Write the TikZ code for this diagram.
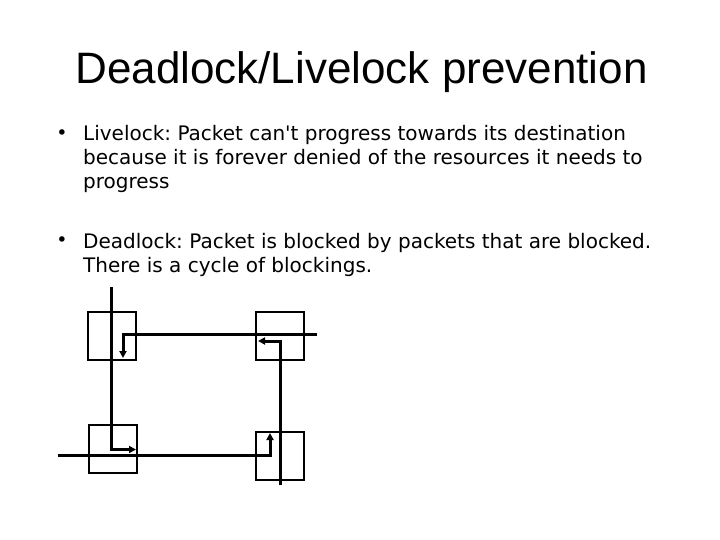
\documentclass[tikz,border=0pt]{standalone}
\usepackage{fontspec}
\setmainfont{DejaVu Sans}
\newfontfamily\titlefont{Liberation Sans}
\usetikzlibrary{arrows.meta}
\tikzset{
  titletext/.style={inner sep=0pt, anchor=base, font=\titlefont\fontsize{44}{50}\selectfont},
  bodytext/.style={inner sep=0pt, anchor=base west, font=\frenchspacing\fontsize{20}{24}\selectfont},
  bulletmark/.style={inner sep=0pt, anchor=base, font=\fontsize{19}{24}\selectfont},
  routerbox/.style={draw=black, line width=2pt, minimum width=48pt, minimum height=48pt, inner sep=0pt},
  pathline/.style={draw=black, line width=3pt, -{Triangle[length=7pt,width=7pt]}},
}
\begin{document}
\begin{tikzpicture}[x=1pt,y=-1pt]
\useasboundingbox[fill=white] (0,0) rectangle (720,540);
% title
\node[titletext] (title) at (361.5,83.3) {Deadlock/Livelock prevention};
% bullets
\node[bulletmark] (bul1) at (62,140) {•};
\node[bodytext] (l1) at (83,141) {Livelock: Packet can\textquotesingle t progress towards its destination};
\node[bodytext] (l2) at (83,165) {because it is forever denied of the resources it needs to};
\node[bodytext] (l3) at (83,189) {progress};
\node[bulletmark] (bul2) at (62,247) {•};
\node[bodytext] (l4) at (83,248) {Deadlock: Packet is blocked by packets that are blocked.};
\node[bodytext] (l5) at (83,272) {There is a cycle of blockings.};
% router boxes
\node[routerbox] (b1) at (111.5,336) {};
\node[routerbox] (b2) at (280,336) {};
\node[routerbox] (b3) at (112.5,449.2) {};
\node[routerbox] (b4) at (280,456) {};
% packet paths
\coordinate (astart) at (111.5,287);
\coordinate (aend) at (136,449.5);
\coordinate (bstart) at (317,334);
\coordinate (bend) at (123,358);
\coordinate (cstart) at (280,485);
\coordinate (cend) at (258,341);
\coordinate (dstart) at (58,455);
\coordinate (dend) at (270,433);
\draw[pathline] (astart) |- (aend);
\draw[pathline] (bstart) -| (bend);
\draw[pathline] (cstart) |- (cend);
\draw[pathline] (dstart) -| (dend);
\end{tikzpicture}
\end{document}
